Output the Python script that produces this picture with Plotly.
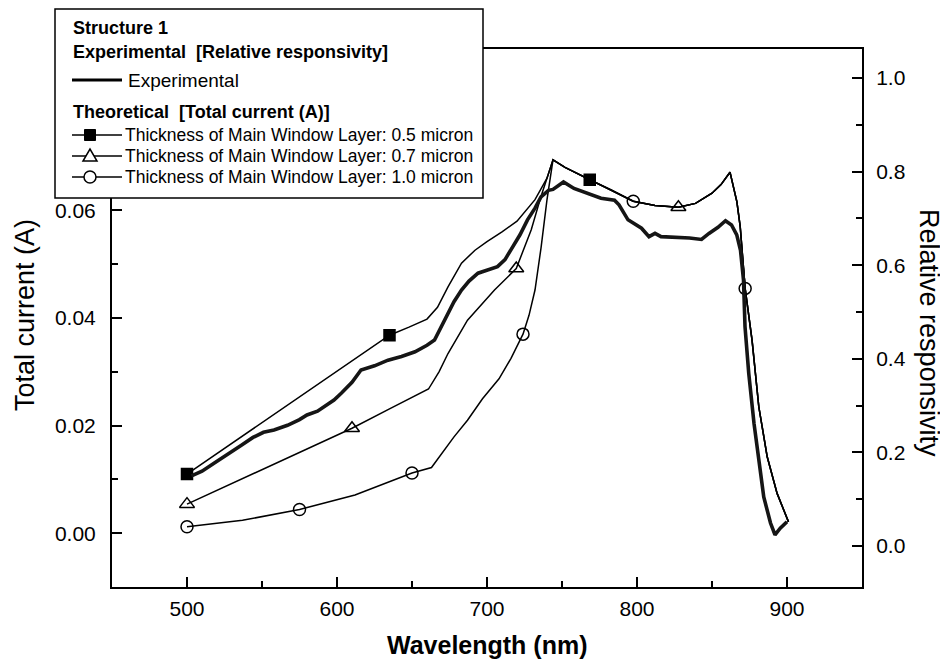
import plotly.graph_objects as go

# ---------------- data ----------------
# Theoretical total current (A), left axis
wl_05 = [500, 540, 580, 620, 635, 648, 660, 667, 674, 683, 692, 700, 710, 720, 732, 740, 744]
cur_05 = [0.0110, 0.0186, 0.0262, 0.0338, 0.0368, 0.0383, 0.0398, 0.0420, 0.0458, 0.0502, 0.0526,
          0.0542, 0.0560, 0.0580, 0.0620, 0.0660, 0.0694]

wl_07 = [500, 555, 610, 635, 661, 668, 674, 687, 705, 719.5, 729.5, 736, 744]
cur_07 = [0.0054, 0.0124, 0.0195, 0.0231, 0.0268, 0.0300, 0.0334, 0.0396, 0.0452, 0.0492, 0.0564,
          0.0626, 0.0694]

wl_10 = [500, 537, 575, 612, 650, 663, 678, 687, 697, 708, 716, 724, 728, 732, 736, 740, 744]
cur_10 = [0.0012, 0.0024, 0.0044, 0.0071, 0.0112, 0.0122, 0.0179, 0.0210, 0.0250, 0.0287, 0.0325,
          0.0370, 0.0405, 0.0452, 0.0530, 0.0620, 0.0694]

# common long-wavelength part of the three theoretical curves
wl_tail = [752, 768.5, 783, 797.5, 812, 827.6, 839, 850, 856, 862, 866.6, 868.8, 872.1, 876.7,
           881.2, 886.8, 893.4, 901]
cur_tail = [0.0680, 0.0657, 0.0638, 0.0617, 0.0609, 0.0606, 0.0613, 0.0632, 0.0648, 0.0671, 0.0616,
            0.0570, 0.0455, 0.0359, 0.0235, 0.0142, 0.0074, 0.0021]

# marker positions (wavelengths) of each theoretical series
mk_05 = [500, 635, 768.5]
mk_07 = [500, 610, 719.5, 827.6]
mk_10 = [500, 575, 650, 724, 797.5, 872.1]

# Experimental relative responsivity, right axis
wl_exp = [503, 510, 518, 526, 536, 544, 551, 558, 567, 575, 580, 587, 593, 598, 603, 610, 616, 625,
          634, 643, 652, 660, 665, 670, 674, 678, 683, 688, 694, 700, 707, 712, 716, 722, 727, 732,
          736, 741, 744, 751, 758, 767, 776, 785, 788, 794, 800, 803, 808, 812, 816, 825, 835, 843,
          848, 854, 859, 863, 866.5, 869, 871, 872, 874.5, 878, 881, 884.5, 889, 892, 895.5, 900]
rel_exp = [0.150, 0.160, 0.177, 0.193, 0.215, 0.232, 0.243, 0.248, 0.258, 0.270, 0.280, 0.288,
           0.300, 0.312, 0.327, 0.350, 0.376, 0.385, 0.397, 0.405, 0.415, 0.429, 0.440, 0.470,
           0.497, 0.522, 0.547, 0.566, 0.583, 0.590, 0.597, 0.612, 0.632, 0.665, 0.697, 0.722,
           0.746, 0.760, 0.762, 0.778, 0.764, 0.754, 0.743, 0.739, 0.729, 0.697, 0.685, 0.679,
           0.661, 0.668, 0.661, 0.660, 0.658, 0.655, 0.668, 0.681, 0.695, 0.686, 0.665, 0.632,
           0.568, 0.469, 0.369, 0.262, 0.184, 0.105, 0.049, 0.024, 0.038, 0.052]

# tick labels
x_ticks = [500, 600, 700, 800, 900]
y_ticks = [0.00, 0.02, 0.04, 0.06]
y2_ticks = [0.0, 0.2, 0.4, 0.6, 0.8, 1.0]

# legend texts
legend_title = "Structure 1"
exp_group = "Experimental\u00a0\u00a0[Relative responsivity]"
exp_name = "Experimental"
theo_group = "Theoretical\u00a0\u00a0[Total current (A)]"
theo_names = ["Thickness of Main Window Layer: 0.5 micron",
              "Thickness of Main Window Layer: 0.7 micron",
              "Thickness of Main Window Layer: 1.0 micron"]

FONT = "Liberation Sans, Arial, sans-serif"

# layout geometry (figure pixels)
ML, MR, MT, MB = 104, 94, 41, 83
W, H = 948, 662
PW, PH = W - ML - MR, H - MT - MB


def px(x):  # page pixel x -> paper
    return (x - 8 - ML) / PW


def py(y):  # page pixel y -> paper
    return (H - MB - (y - 8)) / PH


fig = go.Figure()

# experimental thick line
fig.add_trace(go.Scatter(x=wl_exp, y=rel_exp, yaxis="y2", mode="lines",
                         line=dict(color="#151515", width=3.6), showlegend=False,
                         hoverinfo="skip"))

symbols = [("square", 11), ("triangle-up-open", 13), ("circle-open", 12)]
curves = [(wl_05, cur_05, mk_05), (wl_07, cur_07, mk_07), (wl_10, cur_10, mk_10)]
for (wl, cur, mk), (sym, size), name in zip(curves, symbols, theo_names):
    xs = wl + wl_tail
    ys = cur + cur_tail
    fig.add_trace(go.Scatter(x=xs, y=ys, mode="lines", line=dict(color="black", width=1.5),
                             showlegend=False, hoverinfo="skip", name=name))
    my = [ys[xs.index(v)] for v in mk]
    fig.add_trace(go.Scatter(x=mk, y=my, mode="markers",
                             marker=dict(symbol=sym, size=size, color="black",
                                         line=dict(color="black", width=1.5)),
                             showlegend=False, hoverinfo="skip", name=name))

# ---------------- manual legend ----------------
shapes = [dict(type="rect", xref="paper", yref="paper", x0=px(55), x1=px(483), y0=py(198), y1=py(9),
               line=dict(color="black", width=1.5), fillcolor="white", layer="above")]
annotations = []


def txt(s, x, y, size, bold=False):
    annotations.append(dict(text=("<b>%s</b>" % s) if bold else s, x=px(x), y=py(y),
                            xref="paper", yref="paper", xanchor="left", yanchor="middle",
                            showarrow=False, font=dict(family=FONT, size=size, color="black")))


txt(legend_title, 71, 28, 18, True)
txt(exp_group, 71, 52, 18, True)
shapes.append(dict(type="line", xref="paper", yref="paper", x0=px(72), x1=px(122), y0=py(80),
                   y1=py(80), line=dict(color="black", width=3), layer="above"))
txt(exp_name, 126, 80, 19)
txt(theo_group, 71, 112, 18, True)
rows = [135, 156, 177]
for (sym, size), name, ry in zip(symbols, theo_names, rows):
    shapes.append(dict(type="line", xref="paper", yref="paper", x0=px(72), x1=px(122), y0=py(ry),
                       y1=py(ry), line=dict(color="black", width=1.5), layer="above"))
    base = dict(xref="paper", yref="paper", xsizemode="pixel", ysizemode="pixel",
                xanchor=px(90), yanchor=py(ry), layer="above")
    if sym == "square":
        shapes.append(dict(type="rect", x0=-5.5, x1=5.5, y0=-5.5, y1=5.5, fillcolor="black",
                           line=dict(color="black", width=1), **base))
    elif sym.startswith("triangle"):
        shapes.append(dict(type="path", path="M -7 -5 L 7 -5 L 0 7 Z", fillcolor="white",
                           line=dict(color="black", width=1.5), **base))
    else:
        shapes.append(dict(type="circle", x0=-6, x1=6, y0=-6, y1=6, fillcolor="white",
                           line=dict(color="black", width=1.5), **base))
    txt(name, 123, ry, 17.5)

# axis titles
annotations += [
    dict(text="<b>Wavelength (nm)</b>", x=px(487), y=py(645), xref="paper", yref="paper",
         xanchor="center", yanchor="middle", showarrow=False,
         font=dict(family=FONT, size=25, color="black")),
    dict(text="Total current (A)", x=px(25), y=py(315), xref="paper", yref="paper",
         xanchor="center", yanchor="middle", textangle=-90, showarrow=False,
         font=dict(family=FONT, size=27, color="black")),
    dict(text="Relative responsivity", x=px(929), y=py(333), xref="paper", yref="paper",
         xanchor="center", yanchor="middle", textangle=90, showarrow=False,
         font=dict(family=FONT, size=27, color="black")),
]

axis_common = dict(showline=True, linecolor="black", linewidth=2, ticks="inside",
                   tickcolor="black", tickwidth=2, ticklen=10, showgrid=False, zeroline=False,
                   tickfont=dict(family=FONT, size=21, color="black"))
minor_common = dict(ticks="inside", ticklen=6, tickwidth=2, tickcolor="black")

fig.update_layout(
    width=W, height=H,
    margin=dict(l=ML, r=MR, t=MT, b=MB, autoexpand=False),
    paper_bgcolor="white", plot_bgcolor="white",
    font=dict(family=FONT, color="black"),
    showlegend=False,
    xaxis=dict(range=[450, 950], tickvals=x_ticks, mirror=True,
               minor=dict(tickvals=[550, 650, 750, 850], **minor_common),
               ticklabelstandoff=2, **axis_common),
    yaxis=dict(range=[-0.01, 0.09], tickvals=y_ticks, tickformat=".2f",
               minor=dict(tickvals=[0.01, 0.03, 0.05], **minor_common),
               ticklabelstandoff=10, **axis_common),
    yaxis2=dict(range=[-0.0876, 1.062], tickvals=y2_ticks, tickformat=".1f",
                overlaying="y", side="right",
                minor=dict(tickvals=[0.1, 0.3, 0.5, 0.7, 0.9], **minor_common),
                ticklabelstandoff=8, **axis_common),
    shapes=shapes,
    annotations=annotations,
)

fig.write_html("out.html")
